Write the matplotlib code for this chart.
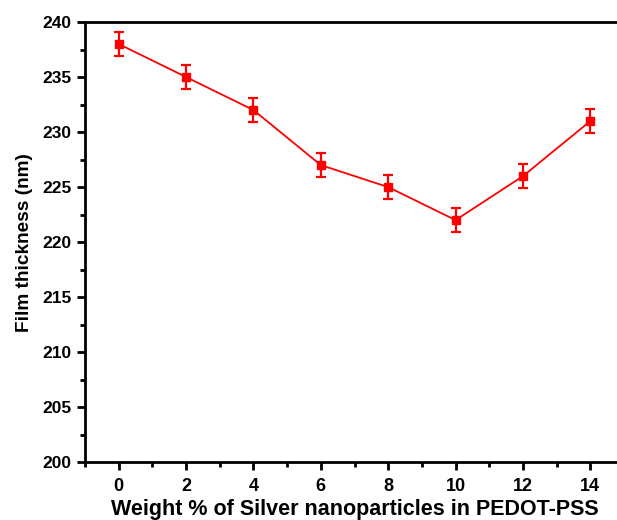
import matplotlib
matplotlib.use("Agg")
import matplotlib.pyplot as plt
from matplotlib.ticker import MultipleLocator

# weight % of Ag nanoparticles vs film thickness
peso = [0, 2, 4, 6, 8, 10, 12, 14]
espessura = [238, 235, 232, 227, 225, 222, 226, 231]
erro = [1.1, 1.1, 1.1, 1.1, 1.1, 1.1, 1.1, 1.1]

plt.rcParams['font.family'] = ['Liberation Sans', 'DejaVu Sans']
plt.rcParams['font.weight'] = 'bold'

fig = plt.figure(figsize=(6.17, 5.2), dpi=100)
# right spine sits just past the image edge (reference is cropped there)
ax = fig.add_axes([0.1378, 0.111, 0.8736, 0.8467])

ax.errorbar(peso, espessura, yerr=erro, color='red', marker='s', markersize=6,
            linewidth=1.3, elinewidth=1.6, capsize=3.3, capthick=1.6)

ax.set_xlim(-1, 15)
ax.set_ylim(200, 240)
ax.xaxis.set_major_locator(MultipleLocator(2))
ax.xaxis.set_minor_locator(MultipleLocator(1))
ax.yaxis.set_major_locator(MultipleLocator(5))
ax.yaxis.set_minor_locator(MultipleLocator(2.5))

for s in ax.spines.values():
    s.set_linewidth(2)
ax.tick_params(which='major', length=6, width=2)
ax.tick_params(which='minor', length=3.5, width=2)
ax.tick_params(axis='x', which='major', labelsize=13, pad=5)
ax.tick_params(axis='y', which='major', labelsize=12.5, pad=3.5)

ax.set_xlabel("Weight % of Silver nanoparticles in PEDOT-PSS", fontsize=15.5,
              fontweight='bold', labelpad=3)
ax.set_ylabel("Film thickness (nm)", fontsize=13.7, fontweight='bold', labelpad=7)

fig.savefig("out.png", dpi=100)
